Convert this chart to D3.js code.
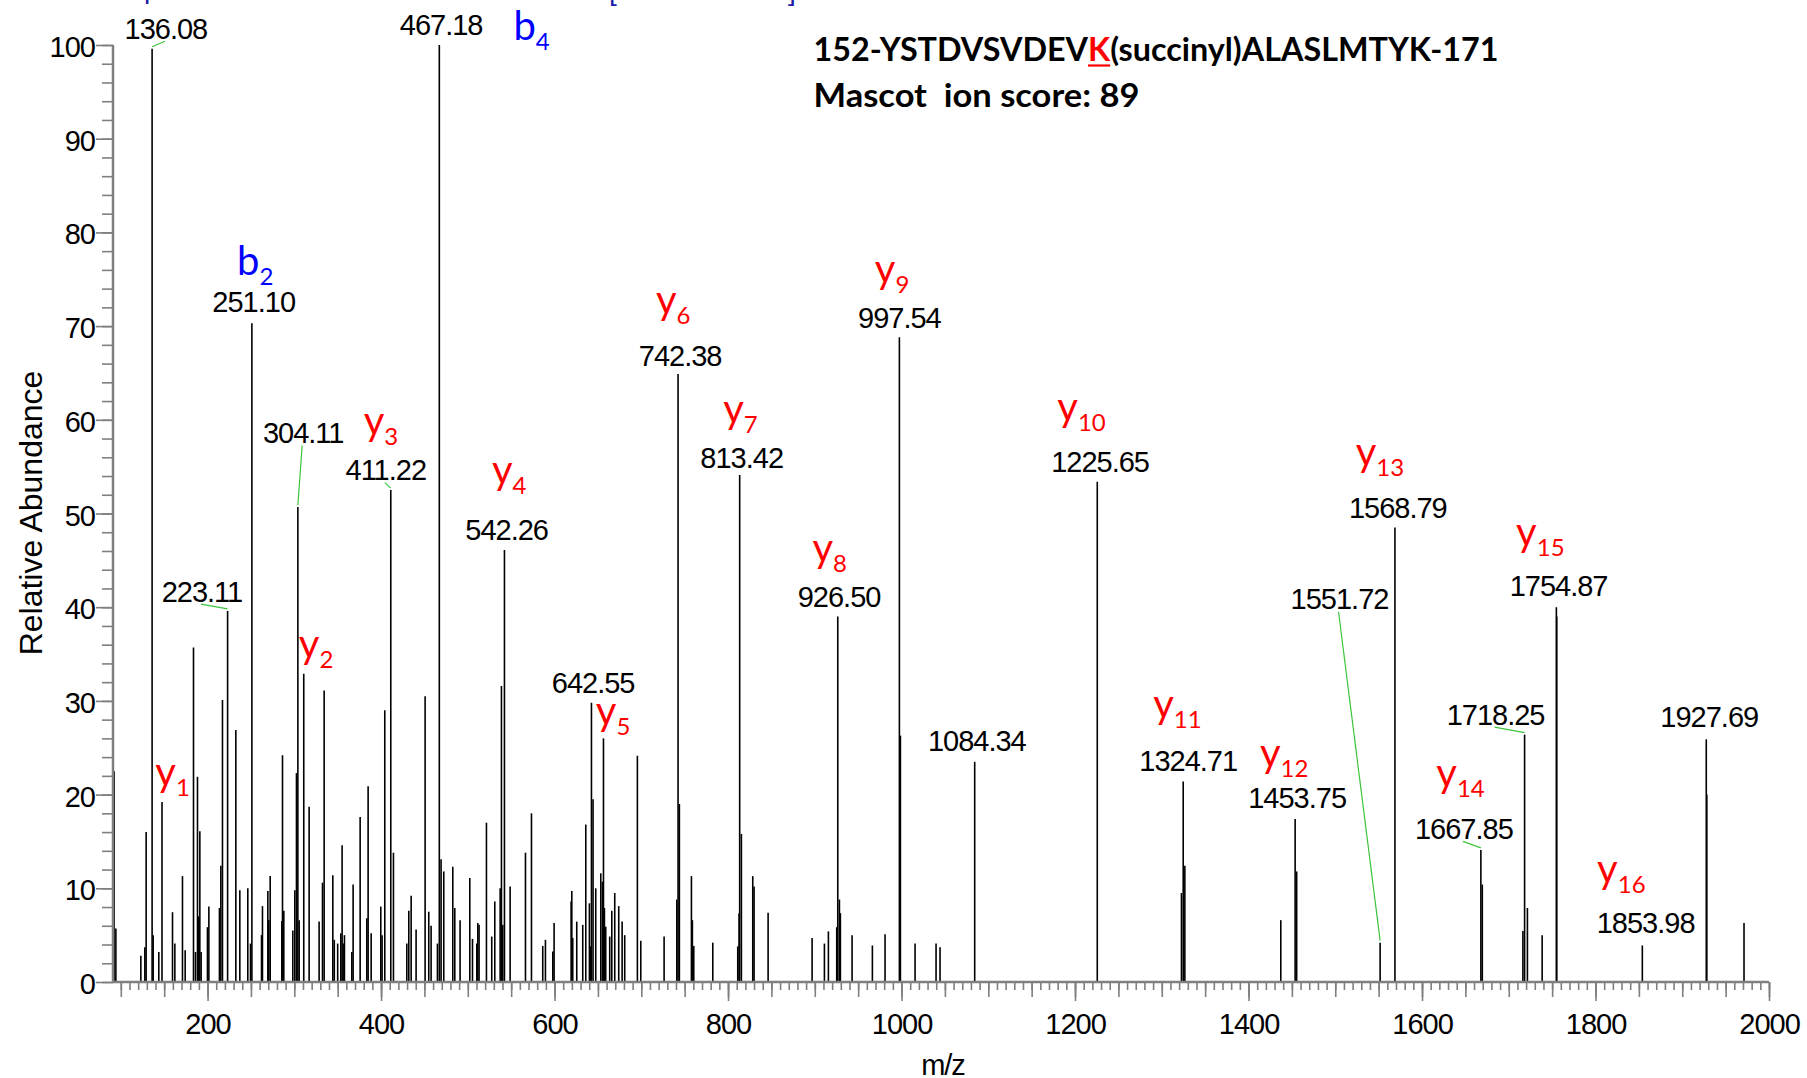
<!DOCTYPE html>
<html>
<head>
<meta charset="utf-8">
<script src="https://cdn.jsdelivr.net/npm/d3@7"></script>
<style>
  html, body { margin: 0; padding: 0; background: #fff; overflow: hidden; }
  svg { display: block; }
</style>
</head>
<body>
<svg id="chart" width="1807" height="1078"></svg>
<script>
// Centroid peaks of the MS/MS spectrum: m/z and relative abundance (%)
const peakMz = [
  92.3, 94.3, 123.1, 127.7, 129.2, 136.08, 137.3, 143.8, 147.5, 159.6,
  162.3, 171.1, 174.2, 183.8, 186.1, 188.4, 189.9, 191.1, 192.6, 199.9,
  201.5, 213.7, 215.3, 217.2, 223.11, 232.6, 237.2, 246.4, 249.5, 251.10,
  262.2, 263.3, 269.5, 270.6, 272.2, 285.6, 286.4, 287.9, 298.3, 300.6,
  302.5, 304.11, 305.6, 310.9, 317.1, 328.6, 332.5, 334.4, 344.4, 346.1,
  350.0, 353.6, 355.1, 356.3, 357.8, 366.3, 367.8, 375.9, 383.6, 385.1,
  388.6, 399.7, 401.2, 404.3, 411.22, 414.3, 429.7, 432.0, 434.7, 440.4,
  450.8, 455.0, 457.7, 465.0, 467.18, 469.2, 472.3, 482.7, 485.0, 491.1,
  502.3, 505.4, 510.4, 511.5, 513.0, 521.5, 527.6, 531.1, 537.3, 538.8,
  540.3, 542.26, 548.8, 566.5, 573.4, 586.4, 589.5, 598.0, 599.5, 619.1,
  619.9, 621.0, 625.6, 632.5, 636.0, 640.2, 641.7, 642.55, 644.4, 647.5,
  653.3, 655.2, 656.4, 657.5, 659.0, 663.6, 666.0, 669.4, 674.0, 677.9,
  680.9, 695.5, 699.4, 726.3, 740.9, 742.38, 743.9, 757.8, 758.9, 760.5,
  782.4, 811.2, 812.7, 813.42, 815.4, 828.5, 830.0, 846.2, 896.9, 911.1,
  915.7, 925.3, 926.50, 928.4, 929.5, 943.0, 966.4, 981.0, 997.54, 998.7,
  1015.6, 1039.8, 1044.4, 1084.34, 1225.65, 1322.7, 1324.71, 1326.6, 1437.2, 1453.75,
  1455.5, 1551.72, 1568.79, 1667.85, 1669.5, 1716.3, 1718.25, 1721.5, 1738.5, 1754.87,
  1755.3, 1853.98, 1927.69, 1928.3, 1971.2
];
const peakAbundance = [
  22.5, 5.7, 2.8, 3.7, 16.0, 99.6, 5.0, 3.2, 19.2, 7.45,
  4.1, 11.3, 3.4, 35.7, 3.2, 21.9, 7.0, 16.1, 3.2, 5.85,
  8.05, 7.9, 12.4, 30.1, 39.6, 26.9, 9.8, 10.0, 4.1, 70.3,
  5.0, 8.1, 9.7, 6.6, 11.3, 6.5, 24.2, 7.6, 5.5, 9.8,
  22.3, 50.7, 6.6, 32.9, 18.7, 6.45, 10.6, 31.1, 11.4, 4.5,
  4.1, 5.2, 14.6, 4.1, 5.0, 3.2, 10.4, 17.6, 6.8, 20.9,
  5.2, 8.05, 5.0, 29.0, 52.5, 13.8, 4.1, 7.6, 9.2, 5.6,
  30.5, 7.5, 6.0, 4.1, 100, 13.1, 11.8, 12.3, 7.9, 6.6,
  11.1, 4.6, 4.1, 6.3, 6.1, 17.0, 4.85, 8.6, 10.0, 31.6,
  6.1, 46.1, 10.2, 13.8, 18.0, 3.85, 4.5, 3.25, 6.3, 8.6,
  9.7, 4.7, 6.45, 6.1, 16.8, 8.4, 3.8, 29.8, 19.5, 10.0,
  11.6, 10.7, 26.0, 7.9, 5.9, 4.85, 7.6, 9.5, 8.1, 6.45,
  5.0, 24.15, 4.4, 4.85, 8.8, 64.9, 19.0, 11.3, 6.6, 3.85,
  4.2, 3.8, 7.3, 54.1, 15.8, 11.3, 10.2, 7.4, 4.7, 4.1,
  5.4, 5.85, 39.0, 8.8, 7.35, 5.0, 3.9, 5.1, 68.8, 26.3,
  4.1, 4.1, 3.7, 23.5, 53.4, 9.5, 21.4, 12.4, 6.6, 17.4,
  11.8, 4.2, 48.5, 14.1, 10.4, 5.45, 26.4, 7.9, 5.0, 40.0,
  39.0, 3.9, 25.9, 20.0, 6.3
];

// Peaks annotated with their m/z value
const labelMz = [
  136.08, 223.11, 251.10, 304.11, 411.22, 467.18, 542.26, 642.55, 742.38, 813.42,
  926.50, 997.54, 1084.34, 1225.65, 1324.71, 1453.75, 1551.72, 1568.79, 1667.85, 1718.25,
  1754.87, 1853.98, 1927.69
];

// Assigned fragment ions: series letter, index, and the peak they mark
const ionSeries = ["y", "b", "y", "y", "b", "y", "y", "y", "y", "y", "y", "y", "y", "y", "y", "y", "y", "y"];
const ionIndex  = [1, 2, 2, 3, 4, 4, 5, 6, 7, 8, 9, 10, 11, 12, 13, 14, 15, 16];
const ionMz     = [147.5, 251.10, 310.9, 411.22, 467.18, 542.26, 656.4, 742.38, 813.42, 926.50,
                   997.54, 1225.65, 1324.71, 1453.75, 1568.79, 1667.85, 1754.87, 1853.98];

// Axis ticks
const xMajorTicks = [200, 400, 600, 800, 1000, 1200, 1400, 1600, 1800, 2000];
const yMajorTicks = [0, 10, 20, 30, 40, 50, 60, 70, 80, 90, 100];

// Header text
const peptideStart = "152-YSTDVSVDEV";
const peptideSite = "K";
const peptideEnd = "(succinyl)ALASLMTYK-171";
const scoreLine = "Mascot  ion score: 89";

// ---------- layout ----------
const W = 1807, H = 1078;
const plot = { left: 113, right: 1769, top: 45, bottom: 982 };

// Offsets of each m/z label from its peak tip (px): dx of text centre, dy of baseline, leader line
const labelLayout = [
  [13.8, -10, true], [-25.7, -9.4, true], [1.8, -11.3, false], [5.3, -64, true],
  [-5, -10, true], [1.8, -10, false], [2.2, -9.6, false], [1.7, -10.1, false],
  [2.1, -7.5, false], [2, -7, false], [1.3, -9.9, false], [0, -9, false],
  [2.1, -11, false], [2.8, -9.2, false], [5, -10.5, false], [2, -10.7, false],
  [-40.6, -333.4, true], [2.9, -9.7, false], [-17, -11, true], [-29, -10, true],
  [2.2, -11.6, false], [3.3, -12.2, false], [3, -12, false]
];
// Offsets of each ion label from its peak tip (px)
const ionLayout = [
  [10.6, -15.6], [3.3, -48.3], [12.3, -15.7], [-9.8, -55.1], [92.3, -5],
  [4.7, -66], [9.6, -13.6], [-4.9, -60], [0.8, -52], [-8, -54.6],
  [-7.3, -54.4], [-15.7, -60.7], [-5.8, -63.2], [-11, -52.3], [-15, -61.3],
  [-20.3, -62.7], [-16, -61], [-21, -62.2]
];

const numFont = "'Liberation Sans', Arial, sans-serif";
const ionFont = "Lato, 'Open Sans', sans-serif";
const axisGrey = "#7f7f7f";

const svg = d3.select("#chart");
svg.append("rect").attr("width", W).attr("height", H).attr("fill", "#fff");

const x = d3.scaleLinear().domain([91, 2000]).range([plot.left, plot.right]);
const y = d3.scaleLinear().domain([0, 100]).range([plot.bottom, plot.top]);

const peaks = peakMz.map((m, i) => ({ mz: m, ab: peakAbundance[i] }));
const abundanceAt = m => {
  let best = peaks[0];
  peaks.forEach(p => { if (Math.abs(p.mz - m) < Math.abs(best.mz - m)) best = p; });
  return best.ab;
};

// ---------- stick spectrum ----------
svg.append("g").selectAll("line").data(peaks).join("line")
  .attr("x1", d => x(d.mz)).attr("x2", d => x(d.mz))
  .attr("y1", y(0)).attr("y2", d => y(d.ab))
  .attr("stroke", "#000").attr("stroke-width", 1.6);

// ---------- axes ----------
function styleAxis(g) {
  g.selectAll(".tick line").attr("stroke", axisGrey).attr("stroke-width", 1.6);
  g.select(".domain").remove();
}
const xAxisG = svg.append("g").attr("transform", `translate(0,${plot.bottom})`);
xAxisG.append("g")
  .call(d3.axisBottom(x).tickValues(d3.range(100, 2001, 10)).tickSize(8).tickFormat("").tickSizeOuter(0))
  .call(styleAxis);
xAxisG.append("g")
  .call(d3.axisBottom(x).tickValues(d3.range(100, 2001, 50)).tickSize(15).tickFormat("").tickSizeOuter(0))
  .call(styleAxis);
const xMajor = xAxisG.append("g")
  .call(d3.axisBottom(x).tickValues(xMajorTicks).tickSize(19).tickFormat(d3.format("d")).tickSizeOuter(0))
  .call(styleAxis);
xMajor.attr("font-family", numFont).attr("font-size", 29);
xMajor.selectAll(".tick text").attr("y", 52).attr("dy", null)
  .attr("fill", "#000").attr("letter-spacing", -1);
xAxisG.append("line").attr("x1", plot.left).attr("x2", plot.right)
  .attr("stroke", axisGrey).attr("stroke-width", 2.5);

const yAxisG = svg.append("g").attr("transform", `translate(${plot.left},0)`);
yAxisG.append("g")
  .call(d3.axisLeft(y).tickValues(d3.range(0, 101, 2)).tickSize(11).tickFormat("").tickSizeOuter(0))
  .call(styleAxis);
const yMajor = yAxisG.append("g")
  .call(d3.axisLeft(y).tickValues(yMajorTicks).tickSize(17).tickFormat(d3.format("d")).tickSizeOuter(0))
  .call(styleAxis);
yMajor.attr("font-family", numFont).attr("font-size", 29);
yMajor.selectAll(".tick text").attr("x", -18).attr("y", 11.5).attr("dy", null)
  .attr("fill", "#000").attr("letter-spacing", -1);
yAxisG.append("line").attr("y1", plot.bottom).attr("y2", plot.top)
  .attr("stroke", axisGrey).attr("stroke-width", 2.5);

// axis titles
svg.append("text")
  .attr("transform", "translate(41.7,513) rotate(-90)")
  .attr("text-anchor", "middle").attr("font-family", numFont).attr("font-size", 32)
  .text("Relative Abundance");
svg.append("text")
  .attr("x", 943).attr("y", 1075).attr("text-anchor", "middle")
  .attr("font-family", numFont).attr("font-size", 29).attr("letter-spacing", -1)
  .text("m/z");

// ---------- m/z labels with leader lines ----------
const labels = labelMz.map((m, i) => {
  const px = x(m), py = y(abundanceAt(m));
  const [dx, dy, lead] = labelLayout[i];
  return { text: d3.format(".2f")(m), px, py, lx: px + dx, ly: py + dy, lead };
});
svg.append("g").selectAll("line").data(labels.filter(d => d.lead)).join("line")
  .attr("x1", d => d.px).attr("y1", d => d.py - 2)
  .attr("x2", d => d.lx - 1).attr("y2", d => d.ly + 2.5)
  .attr("stroke", "#3cc43c").attr("stroke-width", 1.2);
svg.append("g").selectAll("text").data(labels).join("text")
  .attr("x", d => d.lx).attr("y", d => d.ly)
  .attr("text-anchor", "middle").attr("font-family", numFont).attr("font-size", 29)
  .attr("letter-spacing", -1).attr("fill", "#000")
  .text(d => d.text);

// ---------- fragment ion labels ----------
const ions = ionMz.map((m, i) => {
  const [dx, dy] = ionLayout[i];
  return {
    s: ionSeries[i], n: ionIndex[i],
    lx: x(m) + dx, ly: y(abundanceAt(m)) + dy,
    color: ionSeries[i] === "b" ? "#0000ff" : "#ff0000"
  };
});
const ionText = svg.append("g").selectAll("text").data(ions).join("text")
  .attr("x", d => d.lx).attr("y", d => d.ly)
  .attr("text-anchor", "middle").attr("font-family", ionFont)
  .attr("fill", d => d.color);
ionText.append("tspan").attr("font-size", 40).text(d => d.s);
ionText.append("tspan").attr("font-size", 24).attr("dy", 10).text(d => d.n);

// blue annotation text running off the top edge
const topNote = svg.append("g").attr("fill", "#1c1ca8")
  .attr("font-family", numFont).attr("font-size", 28);
topNote.append("text").attr("x", 144).attr("y", -2).text("p");
topNote.append("text").attr("x", 609).attr("y", 0).text("[");
topNote.append("text").attr("x", 788).attr("y", 0).text("]");

// ---------- peptide header ----------
const head = svg.append("g").attr("font-family", ionFont).attr("font-weight", 700)
  .attr("font-size", 33).attr("fill", "#000");
const line1 = head.append("text").attr("x", 813.5).attr("y", 61)
  .attr("textLength", 685).attr("lengthAdjust", "spacingAndGlyphs");
line1.append("tspan").text(peptideStart);
line1.append("tspan").attr("fill", "#ff0000").text(peptideSite);
line1.append("tspan").text(peptideEnd);
head.append("text").attr("x", 813.5).attr("y", 106.7)
  .attr("textLength", 326).attr("lengthAdjust", "spacingAndGlyphs")
  .style("white-space", "pre").text(scoreLine);

// underline the modified residue
const kBox = line1.node().getExtentOfChar(peptideStart.length);
svg.append("line")
  .attr("x1", kBox.x).attr("x2", kBox.x + kBox.width)
  .attr("y1", 65.5).attr("y2", 65.5)
  .attr("stroke", "#ff0000").attr("stroke-width", 2.2);
</script>
</body>
</html>
